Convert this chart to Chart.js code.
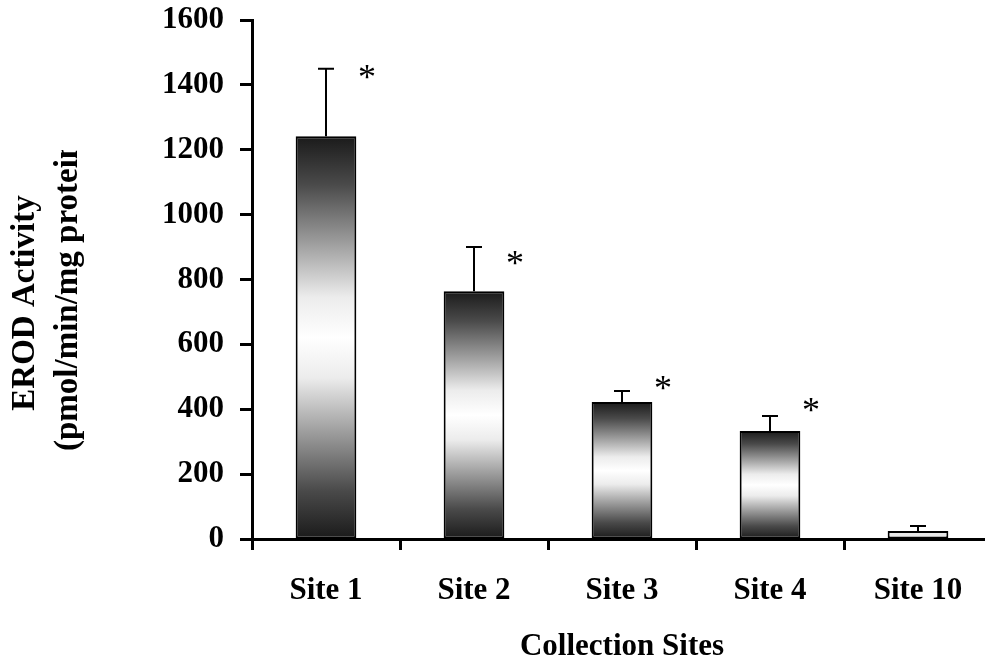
<!DOCTYPE html>
<html>
<head>
<meta charset="utf-8">
<script src="https://cdn.jsdelivr.net/npm/chart.js@4.4.0/dist/chart.umd.min.js"></script>
<style>
  html, body { margin: 0; padding: 0; background: #fff; }
  #wrap { width: 985px; height: 662px; overflow: hidden; }
  #wrap canvas { display: block; }
</style>
</head>
<body>
<div id="wrap"><canvas id="erodChart" width="1000" height="662"></canvas></div>
<script>
// Chart data
const sites = ['Site 1', 'Site 2', 'Site 3', 'Site 4', 'Site 10'];
const erodMean = [1242, 764, 422, 333, 25];
const erodError = [208, 136, 34, 46, 15];
const asteriskAt = [1440, 869, 481, 413, null];
const yTicks = [0, 200, 400, 600, 800, 1000, 1200, 1400, 1600];

const serif = "'Times New Roman', 'Liberation Serif', serif";

// dark - white - dark fill for each bar
function barFill(context) {
    const chart = context.chart;
    const yScale = chart.scales.y;
    if (!chart.chartArea || !yScale || context.parsed === undefined) return '#999';
    const top = yScale.getPixelForValue(context.parsed.y);
    const bottom = yScale.getPixelForValue(0);
    if (bottom - top < 20) return '#e8e8e8';
    const g = chart.ctx.createLinearGradient(0, top, 0, bottom);
    g.addColorStop(0, '#1a1a1a');
    g.addColorStop(0.12, '#4a4a4a');
    g.addColorStop(0.27, '#a0a0a0');
    g.addColorStop(0.4, '#ececec');
    g.addColorStop(0.5, '#ffffff');
    g.addColorStop(0.6, '#ececec');
    g.addColorStop(0.73, '#a0a0a0');
    g.addColorStop(0.88, '#4a4a4a');
    g.addColorStop(1, '#1a1a1a');
    return g;
}

// error bars (upper only) and significance stars
const errorBars = {
    id: 'errorBars',
    afterDatasetsDraw(chart) {
        const ctx = chart.ctx;
        const x = chart.scales.x, y = chart.scales.y;
        ctx.save();
        ctx.strokeStyle = '#000';
        ctx.lineWidth = 2;
        erodMean.forEach((v, i) => {
            const cx = x.getPixelForValue(i);
            const y0 = y.getPixelForValue(v);
            const y1 = y.getPixelForValue(v + erodError[i]);
            ctx.beginPath();
            ctx.moveTo(cx, y0);
            ctx.lineTo(cx, y1);
            ctx.moveTo(cx - 8, y1);
            ctx.lineTo(cx + 8, y1);
            ctx.stroke();
            if (asteriskAt[i] !== null) {
                ctx.fillStyle = '#000';
                ctx.font = '36px ' + serif;
                ctx.textAlign = 'center';
                ctx.textBaseline = 'middle';
                ctx.fillText('*', cx + 41, y.getPixelForValue(asteriskAt[i]) + 8);
            }
        });
        ctx.restore();
    }
};

// rotated y axis title, second line cut off at the top like the original
const yTitle = {
    id: 'yTitle',
    afterDraw(chart) {
        const ctx = chart.ctx;
        ctx.save();
        ctx.beginPath();
        ctx.rect(0, 150, 120, 512);
        ctx.clip();
        ctx.rotate(-Math.PI / 2);
        ctx.fillStyle = '#000';
        ctx.font = 'bold 33px ' + serif;
        ctx.textBaseline = 'middle';
        ctx.textAlign = 'center';
        ctx.fillText('EROD Activity', -303, 25);
        ctx.textAlign = 'left';
        ctx.fillText('(pmol/min/mg protein)', -451, 68);
        ctx.restore();
    }
};

const ctx = document.getElementById('erodChart').getContext('2d');
const erodChart = new Chart(ctx, {
    type: 'bar',
    data: {
        labels: sites,
        datasets: [{
            data: erodMean,
            backgroundColor: barFill,
            borderColor: '#000',
            borderWidth: 2,
            borderSkipped: false,
            categoryPercentage: 1,
            barPercentage: 0.41
        }]
    },
    options: {
        responsive: false,
        animation: false,
        layout: { padding: { top: 20, right: 8, left: 0, bottom: 0 } },
        plugins: {
            legend: { display: false },
            tooltip: { enabled: false },
            title: { display: false }
        },
        scales: {
            x: {
                grid: {
                    offset: true,
                    drawOnChartArea: false,
                    tickLength: 11,
                    tickColor: '#000',
                    tickWidth: 3
                },
                border: { display: true, color: '#000', width: 3 },
                ticks: {
                    color: '#000',
                    font: { family: serif, size: 31, weight: 'bold' },
                    padding: 22,
                    maxRotation: 0
                },
                title: {
                    display: true,
                    text: 'Collection Sites',
                    color: '#000',
                    font: { family: serif, size: 31, weight: 'bold' },
                    padding: { top: 30, bottom: -4 }
                },
                afterFit(scale) { scale.height = 123; }
            },
            y: {
                min: 0,
                max: 1600,
                afterBuildTicks(scale) { scale.ticks = yTicks.map(v => ({ value: v })); },
                grid: {
                    drawOnChartArea: false,
                    tickLength: 12,
                    tickColor: '#000',
                    tickWidth: 3
                },
                border: { display: true, color: '#000', width: 3 },
                ticks: {
                    color: '#000',
                    font: { family: serif, size: 31, weight: 'bold' },
                    padding: 16,
                    callback: v => String(v)
                },
                afterFit(scale) {
                    scale.width = 252;
                    scale.paddingTop = 0;
                    scale.paddingBottom = 0;
                }
            }
        }
    },
    plugins: [errorBars, yTitle]
});
</script>
</body>
</html>
